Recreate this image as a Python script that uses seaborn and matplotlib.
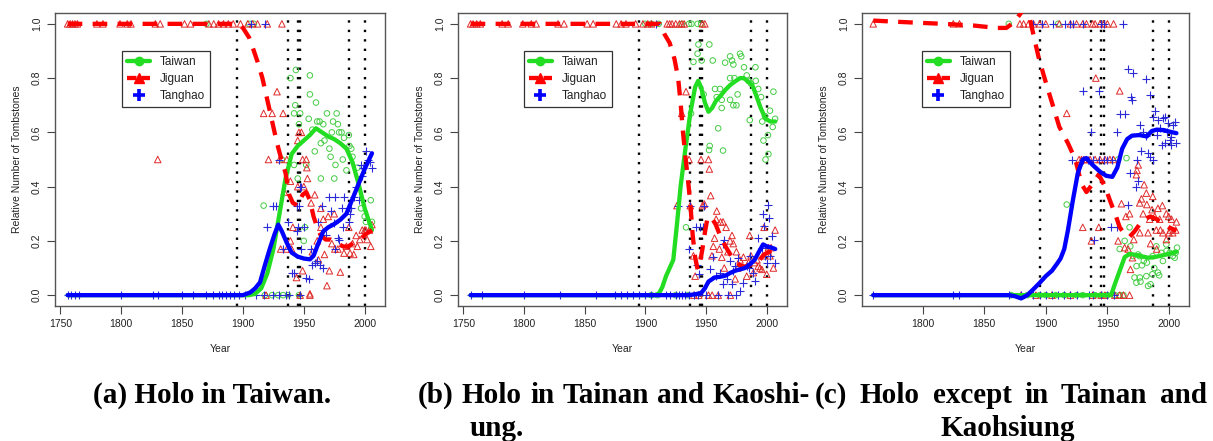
import matplotlib
matplotlib.use("Agg")
import matplotlib.pyplot as plt
import seaborn as sns
from matplotlib.lines import Line2D

# historical reference years (dotted vertical lines)
event_years = [1895, 1937, 1945, 1947, 1987, 2000]

# ---------------- (a) Holo in Taiwan ----------------
a_taiwan_zero = [1918, 1924, 1929, 1933, 1937, 1946]
a_taiwan_one = [1870, 1905, 1909]
a_taiwan_pts = [(1917, 0.33), (1943.5, 0.83), (1939, 0.80), (1955, 0.81), (1943, 0.70), (1942, 0.67),
                (1947, 0.67), (1955, 0.74), (1960, 0.71), (1946, 0.63), (1954, 0.65), (1957, 0.61),
                (1961, 0.64), (1963, 0.64), (1966, 0.63), (1969, 0.67), (1974, 0.64), (1977, 0.67),
                (1978, 0.63), (1959, 0.53), (1964, 0.56), (1967, 0.57), (1971, 0.54), (1973, 0.60),
                (1979, 0.60), (1981, 0.60), (1987, 0.59), (1987.5, 0.55), (1989, 0.54), (1983, 0.58),
                (1982, 0.50), (1976, 0.48), (1972, 0.51), (1964, 0.43), (1975, 0.43), (1985, 0.46),
                (1990, 0.51), (1994, 0.47), (1997, 0.32), (2000, 0.29), (2005, 0.35), (2006, 0.27),
                (1950, 0.20), (1945, 0.43), (1942, 0.48), (1932, 0.50), (1952, 0.48), (2001, 0.27),
                (1951, 0.25)]
a_jiguan_zero = [1919, 1947, 1955]
a_jiguan_one = [1756, 1758, 1760, 1762, 1764, 1780, 1785, 1799, 1805, 1808, 1828, 1832, 1852,
                1857, 1872, 1876, 1880, 1884, 1888, 1892, 1898, 1904, 1908, 1912, 1920, 1932]
a_jiguan_pts = [(1830, 0.50), (1917, 0.67), (1924, 0.67), (1933, 0.67), (1928, 0.75), (1921, 0.50),
                (1930, 0.50), (1936, 0.50), (1939, 0.42), (1945, 0.57), (1946, 0.60), (1948, 0.60),
                (1949, 0.50), (1952, 0.50), (1952.5, 0.47), (1953, 0.43), (1959, 0.37), (1956, 0.34),
                (1934, 0.38), (1941, 0.25), (1931, 0.17), (1936, 0.17), (1940, 0.17), (1939, 0.20),
                (1944, 0.065), (1949, 0.09), (1964, 0.25), (1961, 0.20), (1966, 0.28), (1970, 0.29),
                (1975, 0.30), (1967, 0.15), (1973, 0.19), (1971, 0.09), (1980, 0.085), (1969, 0.035),
                (1955, 0.005), (1975.5, 0.17), (1978, 0.17), (1983, 0.155), (1985, 0.18), (1987, 0.25),
                (1988, 0.155), (1990, 0.19), (1991, 0.15), (1993, 0.22), (1994, 0.18), (1996, 0.205),
                (1998, 0.24), (2000, 0.24), (2002, 0.205), (2004, 0.24), (2005, 0.18), (2006, 0.26),
                (2001, 0.24), (1964, 0.32), (1957, 0.16), (1962, 0.13), (1945, 0.40), (1950, 0.40)]
a_tanghao_zero = [1756, 1759, 1762, 1765, 1800, 1826, 1830, 1850, 1859, 1870, 1875, 1880, 1883,
                  1886, 1889, 1893, 1897, 1902, 1911, 1917, 1925, 1930, 1935, 1938, 1947]
a_tanghao_one = [1907, 1918]
a_tanghao_pts = [(1920, 0.25), (1925, 0.33), (1927, 0.33), (1930, 0.50), (1933, 0.17), (1937, 0.27),
                 (1940, 0.083), (1942, 0.083), (1944, 0.33), (1946, 0.33), (1946.5, 0.40), (1948, 0.40),
                 (1944, 0.235), (1945, 0.25), (1948, 0.17), (1950, 0.25), (1952, 0.065), (1954, 0.06),
                 (1956, 0.17), (1957, 0.11), (1959, 0.12), (1961, 0.125), (1963, 0.11), (1966, 0.10),
                 (1965, 0.33), (1971, 0.36), (1976, 0.36), (1983, 0.36), (1981, 0.32), (1986, 0.32),
                 (1989, 0.32), (1972, 0.31), (1975, 0.265), (1982, 0.25), (1987, 0.27), (1988, 0.30),
                 (1976, 0.17), (1978, 0.21), (1979, 0.205), (1993, 0.40), (1995, 0.35), (1998, 0.44),
                 (2001, 0.53), (2003, 0.50), (2004, 0.49), (2006, 0.47), (1999, 0.47), (1997, 0.48),
                 (1991, 0.36), (1968, 0.22), (1962, 0.27)]
a_taiwan_curve = [(1756, 0), (1905, 0), (1910, 0.005), (1915, 0.025), (1920, 0.08), (1925, 0.17),
                  (1930, 0.30), (1935, 0.43), (1940, 0.52), (1945, 0.55), (1950, 0.57), (1955, 0.59),
                  (1960, 0.615), (1965, 0.60), (1970, 0.585), (1975, 0.575), (1980, 0.56), (1985, 0.54),
                  (1990, 0.49), (1995, 0.41), (2000, 0.32), (2006, 0.24)]
a_jiguan_curve = [(1756, 1.0), (1896, 1.0), (1900, 0.985), (1905, 0.95), (1909, 0.90), (1912, 0.86),
                  (1916, 0.80), (1920, 0.72), (1924, 0.64), (1928, 0.56), (1931, 0.51), (1935, 0.45),
                  (1938, 0.37), (1941, 0.34), (1945, 0.33), (1949, 0.37), (1952, 0.38), (1955, 0.35),
                  (1958, 0.29), (1961, 0.25), (1964, 0.22), (1968, 0.205), (1972, 0.205), (1977, 0.193),
                  (1982, 0.18), (1986, 0.178), (1991, 0.193), (1996, 0.205), (2001, 0.225), (2006, 0.24)]
a_tanghao_curve = [(1756, 0), (1900, 0), (1906, 0.01), (1910, 0.025), (1914, 0.047), (1918, 0.11),
                   (1922, 0.17), (1926, 0.225), (1929, 0.26), (1932, 0.235), (1936, 0.193), (1940, 0.157),
                   (1945, 0.142), (1950, 0.135), (1955, 0.132), (1958, 0.145), (1961, 0.18), (1966, 0.235),
                   (1970, 0.25), (1975, 0.262), (1980, 0.278), (1985, 0.30), (1990, 0.355), (1995, 0.41),
                   (2000, 0.465), (2006, 0.523)]

# ---------------- (b) Holo in Tainan and Kaohsiung ----------------
b_taiwan_zero = [1905, 1910, 1925, 1935]
b_taiwan_one = [1900, 1905, 1911, 1930, 1936, 1938, 1943, 1946]
b_taiwan_pts = [(1939.6, 0.86), (1943, 0.89), (1943.7, 0.924), (1946.4, 0.865), (1952.7, 0.924),
                (1955.5, 0.865), (1957.4, 0.76), (1961.5, 0.76), (1958.8, 0.73), (1965.7, 0.857),
                (1969.8, 0.88), (1971.4, 0.865), (1972.5, 0.85), (1978, 0.89), (1979, 0.88),
                (1981.3, 0.84), (1990.7, 0.84), (1969.8, 0.80), (1973.4, 0.80), (1983.5, 0.81),
                (1984.9, 0.79), (1990.9, 0.79), (1993, 0.76), (1995.3, 0.73), (2005.5, 0.75),
                (1962.9, 0.72), (1962.9, 0.69), (1969.8, 0.72), (1972.5, 0.70), (1975, 0.70),
                (1986, 0.645), (1996.3, 0.64), (1998.6, 0.66), (2002.7, 0.68), (2004.9, 0.62),
                (2001, 0.59), (1997.3, 0.57), (1999, 0.50), (2001.4, 0.52), (2006.9, 0.65),
                (1960, 0.615), (1953, 0.55), (1952.5, 0.535), (1964, 0.533), (1937.6, 0.67),
                (1933.5, 0.25), (1948, 0.74), (1976, 0.74), (1987, 0.78)]
b_jiguan_zero = [1940, 1944, 1952, 1955, 1960, 1970]
b_jiguan_one = [1756, 1758, 1761, 1764, 1782, 1787, 1799, 1806, 1810, 1828, 1833, 1852, 1857, 1876,
                1880, 1884, 1892, 1898, 1902, 1905, 1918, 1920, 1922, 1925, 1928, 1930, 1932, 1947, 1949]
b_jiguan_pts = [(1930, 0.67), (1933.5, 0.75), (1926, 0.33), (1936, 0.50), (1945.9, 0.50), (1952.7, 0.465),
                (1952, 0.50), (1953.8, 0.367), (1948.6, 0.336), (1958.8, 0.31), (1958.3, 0.28), (1962, 0.27),
                (1964, 0.27), (1966.5, 0.25), (1957, 0.21), (1956, 0.18), (1961, 0.17), (1963, 0.14),
                (1969.8, 0.20), (1971.4, 0.22), (1972.5, 0.19), (1975, 0.16), (1978, 0.13), (1980.8, 0.14),
                (1986, 0.22), (1987, 0.145), (1990, 0.12), (1992, 0.13), (1994.5, 0.10), (1996.7, 0.145),
                (1997.8, 0.25), (2000, 0.077), (2001.4, 0.175), (2002.7, 0.145), (2003.6, 0.175),
                (2005.5, 0.10), (2006.9, 0.24), (1939.6, 0.145), (1941, 0.07), (1937, 0.33),
                (1954.8, 0.145), (1974, 0.06), (1983.5, 0.07), (1989, 0.083), (1993, 0.107), (1996, 0.095),
                (1947, 0.33), (1965, 0.10), (1968, 0.16), (1976, 0.10), (1985, 0.12)]
b_tanghao_zero = [1756, 1765, 1800, 1830, 1859, 1875, 1880, 1885, 1890, 1895, 1900, 1905, 1917, 1920,
                  1925, 1928, 1930, 1933, 1936, 1940, 1943, 1950, 1960, 1968, 1975]
b_tanghao_one = [1909]
b_tanghao_pts = [(1927, 0.33), (1936.8, 0.33), (1948.4, 0.33), (1941.8, 0.25), (1945, 0.25), (1947.8, 0.25),
                 (1936.3, 0.17), (1942.3, 0.11), (1944.2, 0.077), (1953.3, 0.095), (1955.5, 0.14),
                 (1961.5, 0.083), (1963.7, 0.19), (1965, 0.205), (1963.7, 0.04), (1969.8, 0.126),
                 (1971.4, 0.04), (1974, 0.107), (1976.6, 0.138), (1978, 0.016), (1980.8, 0.046),
                 (1983.5, 0.107), (1986, 0.144), (1989, 0.083), (1990.4, 0.052), (1993, 0.21), (1997, 0.30),
                 (1998, 0.254), (2001, 0.334), (2002.2, 0.285), (2004.7, 0.218), (2007, 0.12), (2000, 0.12),
                 (2002.7, 0.144), (1995.9, 0.175), (1998.7, 0.144), (1958, 0.07), (1967, 0.06),
                 (1972, 0.09), (1985, 0.10)]
b_taiwan_curve = [(1756, 0), (1908, 0), (1911, 0.005), (1914, 0.03), (1917, 0.07), (1920, 0.10),
                  (1923, 0.13), (1926, 0.26), (1929, 0.40), (1933, 0.54), (1937, 0.67), (1941, 0.767),
                  (1943.5, 0.79), (1946, 0.765), (1949, 0.71), (1952, 0.676), (1955, 0.69), (1958, 0.715),
                  (1962, 0.735), (1966, 0.757), (1970, 0.775), (1974, 0.788), (1978, 0.80), (1981, 0.80),
                  (1984, 0.79), (1988, 0.775), (1991, 0.74), (1995, 0.69), (1999, 0.65), (2003, 0.64),
                  (2007, 0.64)]
b_jiguan_curve = [(1756, 1.0), (1912, 1.0), (1916, 0.96), (1920, 0.93), (1924, 0.87), (1927, 0.80),
                  (1929, 0.71), (1931, 0.60), (1933, 0.51), (1935, 0.43), (1937, 0.34), (1939, 0.22),
                  (1941, 0.14), (1943, 0.095), (1945, 0.12), (1947, 0.17), (1949, 0.23), (1951, 0.28),
                  (1954, 0.29), (1958, 0.26), (1962, 0.215), (1966, 0.18), (1970, 0.15), (1974, 0.125),
                  (1978, 0.11), (1982, 0.105), (1986, 0.11), (1990, 0.12), (1994, 0.13), (1998, 0.15),
                  (2002, 0.16), (2007, 0.165)]
b_tanghao_curve = [(1756, 0), (1935, 0), (1941, 0.003), (1946, 0.008), (1949, 0.025), (1952, 0.05),
                   (1957, 0.065), (1962, 0.068), (1966, 0.072), (1970, 0.082), (1974, 0.09), (1978, 0.095),
                   (1982, 0.10), (1986, 0.113), (1990, 0.13), (1993, 0.155), (1997, 0.187), (2000, 0.18),
                   (2004, 0.175), (2007, 0.17)]

# ---------------- (c) Holo except in Tainan and Kaohsiung ----------------
c_taiwan_zero = [1872, 1885, 1895, 1900, 1908, 1915, 1925, 1930, 1940, 1945, 1950, 1956, 1960, 1963]
c_taiwan_one = [1870, 1910]
c_taiwan_pts = [(1917, 0.334), (1958.7, 0.50), (1965.5, 0.505), (1968, 0.25), (1968.6, 0.18),
                (1973.5, 0.046), (1972, 0.065), (1976.8, 0.05), (1981.6, 0.07), (1983, 0.034), (1985, 0.04),
                (1986.5, 0.077), (1991, 0.083), (1992, 0.073), (1970.8, 0.144), (1974.9, 0.15), (1976, 0.144),
                (1979.5, 0.126), (1982, 0.12), (1986.8, 0.144), (1989.7, 0.18), (1993.8, 0.156), (1995, 0.126),
                (1997.8, 0.187), (2000.5, 0.156), (2003, 0.144), (2005.4, 0.156), (2006.5, 0.175),
                (2004.6, 0.138), (1998, 0.163), (1973.6, 0.107), (1976.3, 0.065), (1964, 0.20), (1988, 0.10),
                (1978, 0.11), (1960, 0.17)]
c_jiguan_zero = [1880, 1892, 1905, 1920, 1938, 1945, 1948, 1956, 1960, 1963, 1968]
c_jiguan_one = [1760, 1825, 1830, 1879, 1882, 1886, 1890, 1895, 1900, 1911, 1920, 1925, 1930, 1933,
                1938, 1940, 1944, 1947, 1950, 1955]
c_jiguan_pts = [(1917, 0.67), (1940.6, 0.80), (1960, 0.753), (1927, 0.50), (1929, 0.50), (1931, 0.50),
                (1933, 0.50), (1936, 0.50), (1940, 0.50), (1944, 0.50), (1948, 0.50), (1952, 0.50),
                (1955, 0.50), (1930, 0.25), (1943, 0.25), (1937, 0.20), (1958.7, 0.20), (1961.4, 0.337),
                (1965, 0.29), (1968, 0.30), (1964, 0.175), (1966.8, 0.17), (1971.4, 0.205), (1968.7, 0.095),
                (1970.3, 0.138), (1973.5, 0.444), (1974, 0.46), (1975, 0.48), (1976.2, 0.34), (1977.6, 0.355),
                (1979, 0.30), (1981.6, 0.376), (1983, 0.23), (1986.8, 0.364), (1986.2, 0.315), (1988.4, 0.29),
                (1989.7, 0.24), (1991, 0.32), (1992.4, 0.28), (1994.6, 0.33), (1995, 0.23), (1997.8, 0.205),
                (1999.7, 0.29), (2001, 0.24), (2002, 0.28), (2003, 0.23), (2005.4, 0.24), (2006, 0.27),
                (1979.8, 0.407), (1982, 0.334), (1984.3, 0.28), (1976.3, 0.23), (1997.8, 0.30), (1993, 0.24),
                (2000, 0.23), (1985, 0.19), (1990, 0.17)]
c_tanghao_zero = [1760, 1825, 1830, 1870, 1880, 1890, 1895, 1900, 1905, 1910, 1915, 1920, 1925, 1935,
                  1938, 1945, 1950, 1955]
c_tanghao_one = [1890, 1897, 1906, 1916, 1920, 1922, 1930, 1945, 1947, 1963]
c_tanghao_pts = [(1930.4, 0.753), (1943, 0.753), (1937, 0.60), (1957.4, 0.60), (1960.6, 0.667), (1964, 0.667),
                 (1966.8, 0.835), (1970.8, 0.82), (1981.6, 0.795), (1984.3, 0.737), (1969.5, 0.73),
                 (1970.3, 0.72), (1976.2, 0.627), (1979, 0.60), (1981.6, 0.587), (1986.8, 0.658), (1989, 0.68),
                 (1991, 0.645), (1993, 0.615), (1995, 0.652), (1996.5, 0.658), (1998, 0.60), (1999, 0.633),
                 (2000.5, 0.572), (2002, 0.584), (2003, 0.627), (2004.6, 0.64), (2006, 0.56), (2002, 0.554),
                 (1996.5, 0.56), (1994, 0.554), (1990, 0.59), (1986.8, 0.50), (1984.3, 0.51), (1982.6, 0.523),
                 (1977.2, 0.53), (1974, 0.50), (1968, 0.45), (1975, 0.42), (1973.5, 0.40), (1966.8, 0.334),
                 (1957.4, 0.25), (1953.3, 0.25), (1939.3, 0.205), (1921, 0.50), (1930, 0.50), (1934, 0.50),
                 (1938, 0.50), (1943, 0.50), (1947, 0.50), (1950, 0.50), (1954, 0.50)]
c_taiwan_curve = [(1760, 0), (1953, 0), (1956, 0.04), (1960, 0.09), (1964, 0.14), (1968, 0.152),
                  (1973, 0.148), (1978, 0.143), (1983, 0.138), (1988, 0.14), (1993, 0.145), (1998, 0.15),
                  (2002, 0.155), (2006, 0.16)]
c_jiguan_curve = [(1760, 1.012), (1787, 1.006), (1817, 1.0), (1841, 0.994), (1860, 0.985), (1868, 0.985),
                  (1874, 1.005), (1879, 1.035), (1883, 1.06), (1887, 1.02), (1890, 0.96), (1894, 0.88),
                  (1899, 0.80), (1905, 0.71), (1911, 0.62), (1918, 0.56), (1924, 0.50), (1929, 0.41),
                  (1933, 0.38), (1938, 0.41), (1943, 0.445), (1948, 0.40), (1952, 0.35), (1957, 0.29),
                  (1960, 0.25), (1964, 0.225), (1968, 0.215), (1972, 0.235), (1976, 0.26), (1980, 0.28),
                  (1985, 0.29), (1990, 0.28), (1995, 0.265), (2000, 0.25), (2006, 0.237)]
c_tanghao_curve = [(1760, 0), (1870, 0), (1875, -0.004), (1880, -0.012), (1885, 0.0), (1890, 0.022),
                   (1895, 0.045), (1900, 0.07), (1905, 0.09), (1909, 0.115), (1912, 0.135), (1915, 0.17),
                   (1918, 0.24), (1922, 0.35), (1926, 0.45), (1930, 0.50), (1933, 0.505), (1938, 0.48),
                   (1944, 0.455), (1949, 0.44), (1954, 0.436), (1958, 0.47), (1962, 0.54), (1966, 0.575),
                   (1970, 0.588), (1976, 0.59), (1982, 0.585), (1986, 0.605), (1990, 0.61), (1996, 0.608),
                   (2001, 0.602), (2006, 0.597)]

series_names = ["Taiwan", "Jiguan", "Tanghao"]
line_colors = {"Taiwan": "#22dd22", "Jiguan": "#ff0000", "Tanghao": "#0000ff"}
point_colors = {"Taiwan": "#44cc44", "Jiguan": "#e02a2a", "Tanghao": "#2a2ad8"}
point_markers = {"Taiwan": "o", "Jiguan": "^", "Tanghao": "+"}

W, H = 1213, 441


def collect(zero_years, one_years, pts):
    xs = list(zero_years) + list(one_years) + [p[0] for p in pts]
    ys = [0.0] * len(zero_years) + [1.0] * len(one_years) + [p[1] for p in pts]
    return xs, ys


def draw_panel(ax, points, curves, xlim, xticks, legend_xy):
    for yr in event_years:
        ax.axvline(yr, color="black", lw=1.7, ls=(0, (1, 3.0)), zorder=1)

    for name in series_names:
        xs, ys = collect(*points[name])
        col = point_colors[name]
        if name == "Tanghao":
            sns.scatterplot(x=xs, y=ys, marker="+", color=col, s=26, linewidth=0.8, ax=ax, zorder=3)
        else:
            sns.scatterplot(x=xs, y=ys, marker=point_markers[name], color=col, edgecolor=col,
                            facecolor="none", s=16 if name == "Taiwan" else 22, linewidth=0.7,
                            ax=ax, zorder=3)

    for name in series_names:
        cx = [p[0] for p in curves[name]]
        cy = [p[1] for p in curves[name]]
        ls = (0, (3.4, 2.4)) if name == "Jiguan" else "-"
        sns.lineplot(x=cx, y=cy, sort=False, estimator=None, color=line_colors[name], lw=3.1,
                     linestyle=ls, ax=ax, zorder=4)

    ax.set_xlim(*xlim)
    ax.set_ylim(-0.04, 1.04)
    ax.set_xticks(xticks)
    ax.set_xticklabels([str(t) for t in xticks])
    ax.set_yticks([0, 0.2, 0.4, 0.6, 0.8, 1.0])
    ax.set_yticklabels(["0.0", "0.2", "0.4", "0.6", "0.8", "1.0"], rotation=90, va="center")
    ax.set_xlabel("Year", fontsize=7.5, labelpad=11, color="#222222")
    ax.set_ylabel("Relative Number of Tombstones", fontsize=7.5, labelpad=7, color="#222222")
    ax.tick_params(labelsize=7.5, length=5.5, width=0.8, color="#444444", labelcolor="#222222", pad=4)
    for sp in ax.spines.values():
        sp.set_visible(True)
        sp.set_color("#555555")
        sp.set_linewidth(1.0)

    handles = [
        Line2D([], [], color=line_colors["Taiwan"], lw=3.1, marker="o", markersize=6),
        Line2D([], [], color=line_colors["Jiguan"], lw=3.1, ls=(0, (2.2, 1.2)), marker="^", markersize=7),
        Line2D([], [], color=line_colors["Tanghao"], lw=0, marker="+", markersize=9, markeredgewidth=2.6),
    ]
    leg = ax.legend(handles, series_names, loc="upper left", bbox_to_anchor=legend_xy,
                    fontsize=8.5, frameon=True, fancybox=False, framealpha=1, edgecolor="#333333",
                    borderaxespad=0, handlelength=2.0, labelspacing=0.45, borderpad=0.4,
                    handletextpad=0.8)
    leg.get_frame().set_linewidth(0.9)
    for t in leg.get_texts():
        t.set_color("#222222")


sns.set_style("ticks")
plt.rcParams["font.family"] = ["Liberation Sans", "DejaVu Sans"]

fig = plt.figure(figsize=(W / 100, H / 100), dpi=100)

panels = [
    (55, 330, {"Taiwan": (a_taiwan_zero, a_taiwan_one, a_taiwan_pts),
               "Jiguan": (a_jiguan_zero, a_jiguan_one, a_jiguan_pts),
               "Tanghao": (a_tanghao_zero, a_tanghao_one, a_tanghao_pts)},
     {"Taiwan": a_taiwan_curve, "Jiguan": a_jiguan_curve, "Tanghao": a_tanghao_curve},
     (1745.6, 2016.7), [1750, 1800, 1850, 1900, 1950, 2000], (0.203, 0.87)),
    (458, 329, {"Taiwan": (b_taiwan_zero, b_taiwan_one, b_taiwan_pts),
                "Jiguan": (b_jiguan_zero, b_jiguan_one, b_jiguan_pts),
                "Tanghao": (b_tanghao_zero, b_tanghao_one, b_tanghao_pts)},
     {"Taiwan": b_taiwan_curve, "Jiguan": b_jiguan_curve, "Tanghao": b_tanghao_curve},
     (1745.6, 2016.7), [1750, 1800, 1850, 1900, 1950, 2000], (0.20, 0.87)),
    (862, 327, {"Taiwan": (c_taiwan_zero, c_taiwan_one, c_taiwan_pts),
                "Jiguan": (c_jiguan_zero, c_jiguan_one, c_jiguan_pts),
                "Tanghao": (c_tanghao_zero, c_tanghao_one, c_tanghao_pts)},
     {"Taiwan": c_taiwan_curve, "Jiguan": c_jiguan_curve, "Tanghao": c_tanghao_curve},
     (1750.9, 2016.2), [1800, 1850, 1900, 1950, 2000], (0.183, 0.87)),
]

for left, width, pts, crv, xlim, xticks, lxy in panels:
    ax = fig.add_axes([left / W, 1 - 306 / H, width / W, 293 / H])
    draw_panel(ax, pts, crv, xlim, xticks, lxy)

# captions (justified like the original subcaptions)
cap_kw = dict(fontfamily="Liberation Serif", fontweight="bold", fontsize=21, va="baseline", color="black")
renderer = fig.canvas.get_renderer()


def justified(words, x0, x1, y_px):
    texts = [fig.text(0, 1 - y_px / H, w, ha="left", **cap_kw) for w in words]
    widths = [t.get_window_extent(renderer).width for t in texts]
    gap = (x1 - x0 - sum(widths)) / max(len(words) - 1, 1)
    x = x0
    for t, w in zip(texts, widths):
        t.set_x(x / W)
        x += w + gap


fig.text(212 / W, 1 - 403 / H, "(a) Holo in Taiwan.", ha="center", **cap_kw)
justified(["(b)", "Holo", "in", "Tainan", "and", "Kaoshi-"], 418, 810, 403)
fig.text(497 / W, 1 - 436 / H, "ung.", ha="center", **cap_kw)
justified(["(c)", "Holo", "except", "in", "Tainan", "and"], 815, 1207, 403)
fig.text(1008 / W, 1 - 436 / H, "Kaohsiung", ha="center", **cap_kw)

fig.savefig("out.png", dpi=100)
